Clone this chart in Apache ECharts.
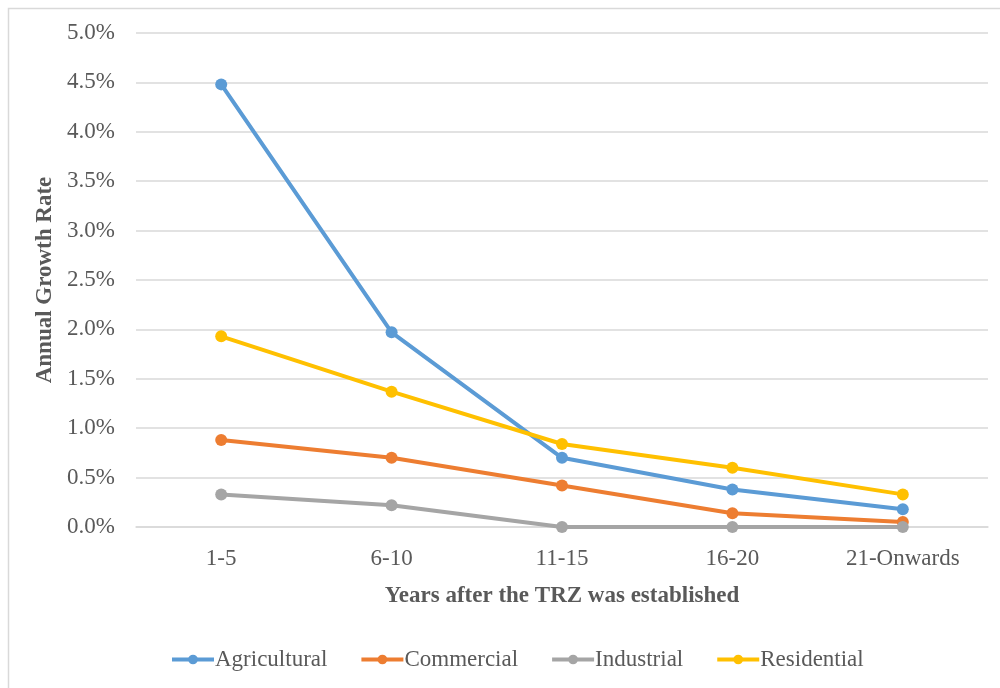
<!DOCTYPE html>
<html><head><meta charset="utf-8">
<script src="https://cdn.jsdelivr.net/npm/echarts@6/dist/echarts.min.js"></script>
<style>html,body{margin:0;padding:0;background:#fff}#c{width:1000px;height:688px}</style>
</head><body><div id="c"></div>
<script>
const categories = ['1-5', '6-10', '11-15', '16-20', '21-Onwards'];
const agricultural = [4.48, 1.97, 0.70, 0.38, 0.18];
const commercial = [0.88, 0.70, 0.42, 0.14, 0.05];
const industrial = [0.33, 0.22, 0.00, 0.00, 0.00];
const residential = [1.93, 1.37, 0.84, 0.60, 0.33];
const seriesNames = ['Agricultural', 'Commercial', 'Industrial', 'Residential'];
const colors = ['#5b9bd5', '#ed7d31', '#a5a5a5', '#ffc000'];
const values = [agricultural, commercial, industrial, residential];

const chart = echarts.init(document.getElementById('c'));
const font = '"Liberation Serif", "Times New Roman", serif';
chart.setOption({
  animation: false,
  textStyle: { fontFamily: font },
  graphic: [{
    type: 'rect', shape: { x: 8.5, y: 8.5, width: 1000, height: 700 },
    style: { fill: 'none', stroke: '#d9d9d9', lineWidth: 1.5 }, silent: true
  }],
  grid: { left: 136, right: 12, top: 33, bottom: 161 },
  legend: {
    bottom: 12, left: 165,
    itemWidth: 42, itemHeight: 12, itemGap: 32,
    lineStyle: { width: 4 },
    textStyle: { fontFamily: font, fontSize: 23, color: '#595959', padding: [0, 0, 0, -4] },
    data: seriesNames
  },
  xAxis: {
    type: 'category', data: categories, boundaryGap: true,
    name: 'Years after the TRZ was established', nameLocation: 'middle', nameGap: 58,
    nameTextStyle: { fontFamily: font, fontSize: 23, fontWeight: 'bold', color: '#595959' },
    axisLine: { show: true, lineStyle: { color: '#d9d9d9', width: 1.5 } },
    axisTick: { show: false },
    axisLabel: { fontFamily: font, fontSize: 23, color: '#595959', margin: 20 }
  },
  yAxis: {
    type: 'value', min: 0, max: 5, interval: 0.5,
    name: 'Annual Growth Rate', nameLocation: 'middle', nameGap: 70, nameRotate: 90,
    nameTextStyle: { fontFamily: font, fontSize: 23, fontWeight: 'bold', color: '#595959' },
    axisLine: { show: false }, axisTick: { show: false },
    axisLabel: { fontFamily: font, fontSize: 23, color: '#595959', margin: 21,
      formatter: v => v.toFixed(1) + '%' },
    splitLine: { lineStyle: { color: '#d9d9d9', width: 1.5 } }
  },
  series: seriesNames.map((n, i) => ({
    name: n, type: 'line', data: values[i],
    symbol: 'circle', symbolSize: 12,
    itemStyle: { color: colors[i] },
    lineStyle: { color: colors[i], width: 4 }
  }))
});
</script></body></html>
